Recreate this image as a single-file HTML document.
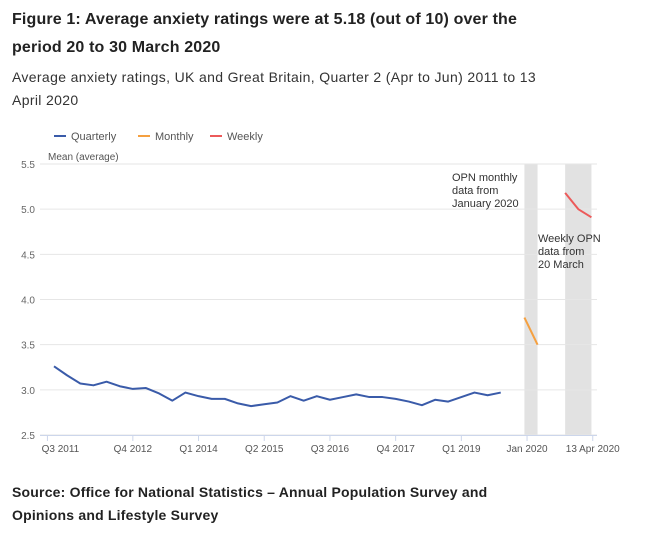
<!DOCTYPE html>
<html><head><meta charset="utf-8"><style>
body{margin:0;width:658px;height:538px;background:#fff;font-family:"Liberation Sans",sans-serif;position:relative;overflow:hidden}
.t{position:absolute;left:12px;color:#222;white-space:nowrap}
</style></head><body>
<div class="t" style="top:6px;font-size:16px;font-weight:bold;line-height:28px;letter-spacing:0.15px">Figure 1: Average anxiety ratings were at 5.18 (out of 10) over the<br>period 20 to 30 March 2020</div>
<div class="t" style="top:66px;font-size:14px;line-height:23px;color:#333;letter-spacing:0.35px">Average anxiety ratings, UK and Great Britain, Quarter 2 (Apr to Jun) 2011 to 13<br>April 2020</div>
<div class="t" style="top:481px;font-size:14px;font-weight:bold;line-height:23px;letter-spacing:0.2px">Source: Office for National Statistics – Annual Population Survey and<br>Opinions and Lifestyle Survey</div>
<svg id="c" width="658" height="538" style="position:absolute;left:0;top:0" font-family="Liberation Sans, sans-serif"></svg>
<script>
const quarterly=[3.26,3.16,3.07,3.05,3.09,3.04,3.01,3.02,2.96,2.88,2.97,2.93,2.90,2.90,2.85,2.82,2.84,2.86,2.93,2.88,2.93,2.89,2.92,2.95,2.92,2.92,2.90,2.87,2.83,2.89,2.87,2.92,2.97,2.94,2.97];
const monthlyIdx=[35.8,36.8];
const monthly=[3.80,3.50];
const weeklyIdx=[38.9,39.9,40.9];
const weekly=[5.18,5.00,4.91];
const yTicks=[2.5,3.0,3.5,4.0,4.5,5.0,5.5];
const xTickIdx=[-0.5,6,11,16,21,26,31,36,41];
const xTickLabels=["Q3 2011","Q4 2012","Q1 2014","Q2 2015","Q3 2016","Q4 2017","Q1 2019","Jan 2020","13 Apr 2020"];
const bands=[[35.8,36.8],[38.9,40.9]];
const svg=document.getElementById('c');const NS='http://www.w3.org/2000/svg';
const x=i=>54+i*13.14, y=v=>435-(v-2.5)*90.33;
function mk(t,a,p){const e=document.createElementNS(NS,t);for(const k in a)e.setAttribute(k,a[k]);(p||svg).appendChild(e);return e;}
bands.forEach(b=>{const r=mk('rect',{x:x(b[0]),y:164,width:x(b[1])-x(b[0]),height:271,fill:'#e2e2e2'});

});
yTicks.forEach(v=>{const l=mk('line',{x1:40,x2:597,y1:y(v),y2:y(v),stroke:'#e6e6e6'});


const t=mk('text',{x:35,y:y(v)+4,'font-size':10,fill:'#666','text-anchor':'end'});t.textContent=v.toFixed(1);

});
mk('line',{x1:40,x2:597,y1:435.5,y2:435.5,stroke:'#ccd6eb'});
xTickIdx.forEach((i,k)=>{mk('line',{x1:x(i),x2:x(i),y1:435,y2:441,stroke:'#ccd6eb'});
const t=mk('text',{x:x(i)+ (k==0?13:0),y:452,'font-size':10,fill:'#555','text-anchor':'middle'});t.textContent=xTickLabels[k];

});
function line(xs,vs,col,name){const p=mk('polyline',{points:vs.map((v,k)=>x(xs[k])+','+y(v)).join(' '),fill:'none',stroke:col,'stroke-width':2,'stroke-linejoin':'round'});

}
line(quarterly.map((v,i)=>i),quarterly,'#3a5ba9','quarterly-line');
line(monthlyIdx,monthly,'#f5a040','monthly-line');
line(weeklyIdx,weekly,'#ec5a5a','weekly-line');
const yt=mk('text',{x:48,y:160,'font-size':10,fill:'#555'});yt.textContent='Mean (average)';


[['Quarterly','#3a5ba9',54],['Monthly','#f5a040',138],['Weekly','#ec5a5a',210]].forEach(l=>{
const g=mk('g',{});

mk('line',{x1:l[2],x2:l[2]+12,y1:136,y2:136,stroke:l[1],'stroke-width':2},g);
const t=mk('text',{x:l[2]+17,y:140,'font-size':11,fill:'#555'},g);t.textContent=l[0];});
function ann(lines,x0,y0,name){const t=mk('text',{x:x0,y:y0,'font-size':11,fill:'#333'});


lines.forEach((s,k)=>{const ts=mk('tspan',{x:x0,dy:k?13:0},t);ts.textContent=s;});}
ann(['OPN monthly','data from','January 2020'],452,181,'monthly-annotation');
ann(['Weekly OPN','data from','20 March'],538,242,'weekly-annotation');
</script>
</body></html>
